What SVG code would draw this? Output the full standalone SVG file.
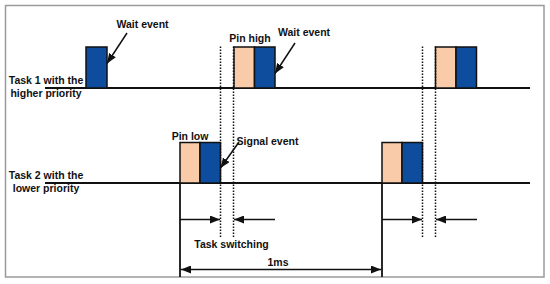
<svg xmlns="http://www.w3.org/2000/svg" width="550" height="284" viewBox="0 0 550 284">
<style>
text{font-family:"Liberation Sans",Arial,sans-serif;font-size:10.5px;font-weight:bold;fill:#111}
.mid{text-anchor:middle}
.axis{stroke:#111;stroke-width:1.8;fill:none}
.dot{stroke:#111;stroke-width:1.5;stroke-dasharray:1.5 1.5;fill:none}
.pin{fill:#f9cba8;stroke:#111;stroke-width:1.5}
.run{fill:#0e4c9e;stroke:#111;stroke-width:1.5}
.arr{stroke:#111;stroke-width:1.5;fill:none;marker-end:url(#ah)}
</style>
<defs>
<marker id="ah" markerUnits="userSpaceOnUse" markerWidth="10" markerHeight="8" refX="10" refY="4" orient="auto-start-reverse">
<path d="M0,0 L10,4 L0,8 z" fill="#111"/>
</marker>
</defs>
<rect x="5.5" y="5.5" width="538.5" height="271.5" fill="#fff" stroke="#9a9a9a" stroke-width="1.5"/>
<g id="task1">
<line class="axis" x1="45" y1="88" x2="530" y2="88"/>
<text class="mid" x="46" y="83.5">Task 1 with the</text>
<text class="mid" x="46" y="96.5">higher priority</text>
</g>
<g id="task2">
<line class="axis" x1="45" y1="183" x2="530" y2="183"/>
<text class="mid" x="46" y="178.5">Task 2 with the</text>
<text class="mid" x="46" y="192">lower priority</text>
</g>
<g id="t1-wait">
<rect class="run" x="86" y="47" width="21" height="41"/>
</g>
<g id="t1-pinhigh">
<rect class="pin" x="234" y="47" width="20.5" height="41"/>
<rect class="run" x="254.5" y="47" width="20.5" height="41"/>
</g>
<g id="t1-next">
<rect class="pin" x="435.5" y="47" width="20.5" height="41"/>
<rect class="run" x="456" y="47" width="20.5" height="41"/>
</g>
<g id="t2-pinlow">
<rect class="pin" x="180" y="142.5" width="20" height="40.5"/>
<rect class="run" x="200" y="142.5" width="20.5" height="40.5"/>
</g>
<g id="t2-next">
<rect class="pin" x="382" y="142.5" width="20" height="40.5"/>
<rect class="run" x="402" y="142.5" width="20.5" height="40.5"/>
</g>
<g id="labels">
<text class="mid" x="142.5" y="28">Wait event</text>
<text class="mid" x="250" y="42">Pin high</text>
<text class="mid" x="304" y="36">Wait event</text>
<text class="mid" x="190" y="139.5">Pin low</text>
<text class="mid" x="267.5" y="144.5">Signal event</text>
<text class="mid" x="231.5" y="247.5">Task switching</text>
<text class="mid" x="278" y="265.5">1ms</text>
</g>
<g id="connectors">
<line class="dot" x1="220.5" y1="46.5" x2="220.5" y2="238.5"/>
<line class="dot" x1="233.5" y1="46.5" x2="233.5" y2="238.5"/>
<line class="dot" x1="422.5" y1="46.5" x2="422.5" y2="238.5"/>
<line class="dot" x1="435.5" y1="46.5" x2="435.5" y2="238.5"/>
<line class="axis" x1="180" y1="183" x2="180" y2="277"/>
<line class="axis" x1="382" y1="183" x2="382" y2="277"/>
<line class="arr" x1="127" y1="33" x2="107" y2="63.5"/>
<line class="arr" x1="295" y1="43" x2="275" y2="73.5"/>
<line class="arr" x1="239" y1="142" x2="220.5" y2="168"/>
<line class="arr" x1="180" y1="219.5" x2="220" y2="219.5"/>
<line class="arr" x1="275" y1="219.5" x2="234" y2="219.5"/>
<line class="arr" x1="382" y1="219.5" x2="422" y2="219.5"/>
<line class="arr" x1="477" y1="219.5" x2="436" y2="219.5"/>
<line class="arr" x1="181" y1="269.5" x2="381" y2="269.5" style="marker-start:url(#ah)"/>
</g>
</svg>
